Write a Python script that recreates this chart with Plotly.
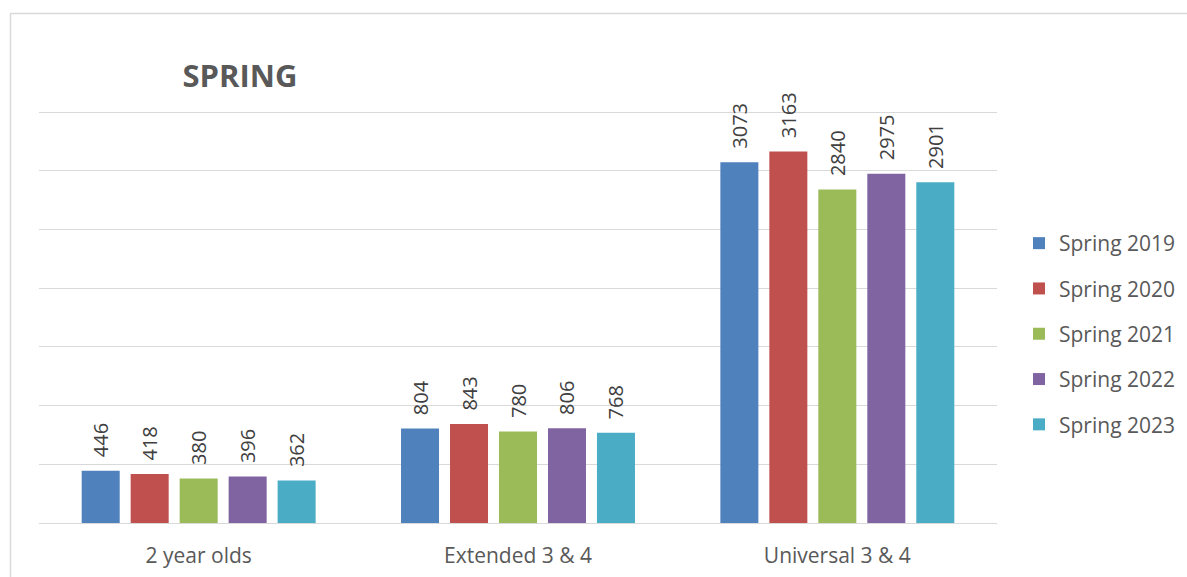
import plotly.graph_objects as go

categories = ["2 year olds", "Extended 3 & 4", "Universal 3 & 4"]
series_names = ["Spring 2019", "Spring 2020", "Spring 2021", "Spring 2022", "Spring 2023"]
spring_2019 = [446, 804, 3073]
spring_2020 = [418, 843, 3163]
spring_2021 = [380, 780, 2840]
spring_2022 = [396, 806, 2975]
spring_2023 = [362, 768, 2901]
colors = ["#4F81BD", "#C0504D", "#9BBB59", "#8064A2", "#4BACC6"]

series_values = [spring_2019, spring_2020, spring_2021, spring_2022, spring_2023]

FONT = "Open Sans"
TEXT_COLOR = "#595959"
GRID = "#D9D9D9"

fig = go.Figure()
for name, vals, col in zip(series_names, series_values, colors):
    fig.add_trace(go.Bar(
        name=name,
        x=categories,
        y=vals,
        marker=dict(color=col, line=dict(width=0)),
        text=["\u00a0\u00a0" + str(v) for v in vals],
        textposition="outside",
        textangle=-90,
        textfont=dict(family=FONT, size=20, color="#404040"),
        constraintext="none",
        cliponaxis=False,
        legendgroup=name,
        hoverinfo="skip",
    ))

W, H = 1187, 577
L, R, T, B = 39, 190, 110, 54
plot_w = W - L - R
plot_h = H - T - B
Y_TOP = 3517

def px_to_paper_x(px):
    return (px - L) / plot_w

def px_to_paper_y(py):
    return (H - B - py) / plot_h

fig.update_layout(
    width=W, height=H,
    margin=dict(l=L, r=R, t=T, b=B, pad=0, autoexpand=False),
    paper_bgcolor="white",
    plot_bgcolor="white",
    barmode="group",
    bargap=0.233,
    bargroupgap=0.224,
    font=dict(family=FONT, color=TEXT_COLOR, size=21),
    title=dict(
        text="<b>SPRING</b>",
        font=dict(family=FONT, size=31, color=TEXT_COLOR),
        x=px_to_paper_x(240), xref="paper", xanchor="center",
        y=1 - 76 / H, yref="container", yanchor="middle",
    ),
    legend=dict(
        x=px_to_paper_x(1019), xanchor="left",
        y=px_to_paper_y(334), yanchor="middle",
        font=dict(family=FONT, size=21, color=TEXT_COLOR),
        tracegroupgap=15,
        bgcolor="rgba(0,0,0,0)",
    ),
    xaxis=dict(
        showgrid=False,
        showline=False,
        ticks="",
        tickfont=dict(family=FONT, size=21, color=TEXT_COLOR),
        ticklabelstandoff=18,
        fixedrange=True,
    ),
    yaxis=dict(
        range=[0, Y_TOP],
        tick0=0,
        dtick=500,
        showgrid=True,
        gridcolor=GRID,
        gridwidth=1.3,
        zeroline=True,
        zerolinecolor=GRID,
        zerolinewidth=1.3,
        showticklabels=False,
        ticks="",
        fixedrange=True,
    ),
    shapes=[dict(
        type="rect", xref="paper", yref="paper",
        x0=px_to_paper_x(10.5), x1=px_to_paper_x(W + 50),
        y0=px_to_paper_y(H + 50), y1=px_to_paper_y(13.5),
        line=dict(color=GRID, width=1.5),
        fillcolor="rgba(0,0,0,0)",
        layer="below",
    )],
)

fig.write_html("out.html")
